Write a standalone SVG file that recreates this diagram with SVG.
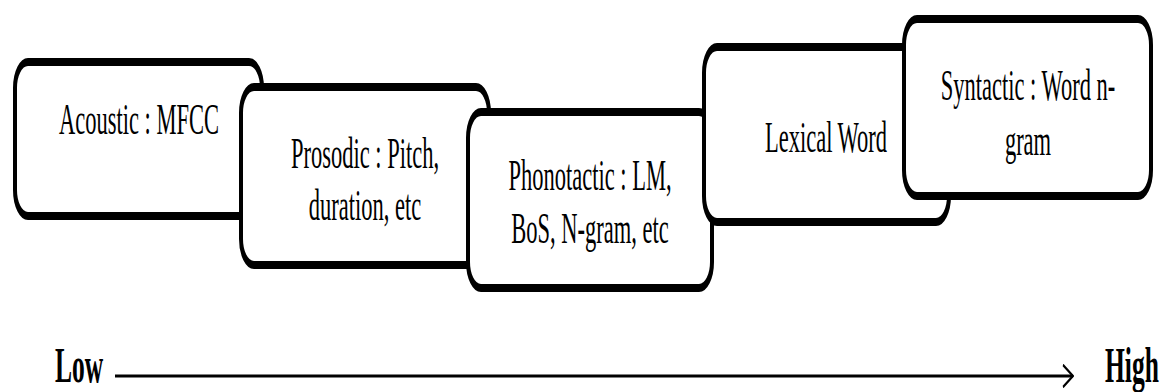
<svg xmlns="http://www.w3.org/2000/svg" width="1161" height="392" viewBox="0 0 1161 392">
  <style>
    .box { fill: #ffffff; stroke: #000000; stroke-width: 8; }
    .label { font-family: 'Liberation Serif', 'DejaVu Serif', serif; font-size: 45px; fill: #000000; text-anchor: middle; }
    .axis { font-family: 'Liberation Serif', 'DejaVu Serif', serif; font-size: 51px; font-weight: bold; fill: #000000; }
    .axis-line { fill: none; stroke: #000000; stroke-width: 3; }
  </style>
  <defs>
    <marker id="chevron" viewBox="0 0 24 24" refX="22" refY="12" markerWidth="24" markerHeight="24" markerUnits="userSpaceOnUse" orient="auto">
      <path d="M2,1 L22,12 L2,23" fill="none" stroke="#000000" stroke-width="3"/>
    </marker>
  </defs>
  <rect width="1161" height="392" fill="#ffffff"/>
  <!-- condensed layout: x coordinates are doubled and squeezed by the group scale -->
  <g transform="scale(0.5,1)">
    <g id="node-acoustic">
      <rect class="box" x="30" y="62" width="494" height="154" rx="26" ry="26"/>
      <text class="label" x="278" y="134">Acoustic : MFCC</text>
    </g>
    <g id="node-prosodic">
      <rect class="box" x="482" y="87" width="496" height="178" rx="26" ry="26"/>
      <text class="label" x="730" y="168">Prosodic : Pitch,</text>
      <text class="label" x="730" y="220">duration, etc</text>
    </g>
    <g id="node-phonotactic">
      <rect class="box" x="936" y="112" width="488" height="176" rx="26" ry="26"/>
      <text class="label" x="1180" y="190">Phonotactic : LM,</text>
      <text class="label" x="1180" y="243">BoS, N-gram, etc</text>
    </g>
    <g id="node-lexical">
      <rect class="box" x="1408" y="47" width="490" height="175" rx="26" ry="26"/>
      <text class="label" x="1652" y="152">Lexical Word</text>
    </g>
    <g id="node-syntactic">
      <rect class="box" x="1808" y="19" width="494" height="177" rx="26" ry="26"/>
      <text class="label" x="2056" y="100">Syntactic : Word n-</text>
      <text class="label" x="2056" y="155">gram</text>
    </g>
    <g id="connectors">
      <line class="axis-line" x1="230" y1="376" x2="2146" y2="376" marker-end="url(#chevron)"/>
    </g>
    <g id="axis-labels">
      <text class="axis" x="110" y="382">Low</text>
      <text class="axis" x="2210" y="382">High</text>
    </g>
  </g>
</svg>
